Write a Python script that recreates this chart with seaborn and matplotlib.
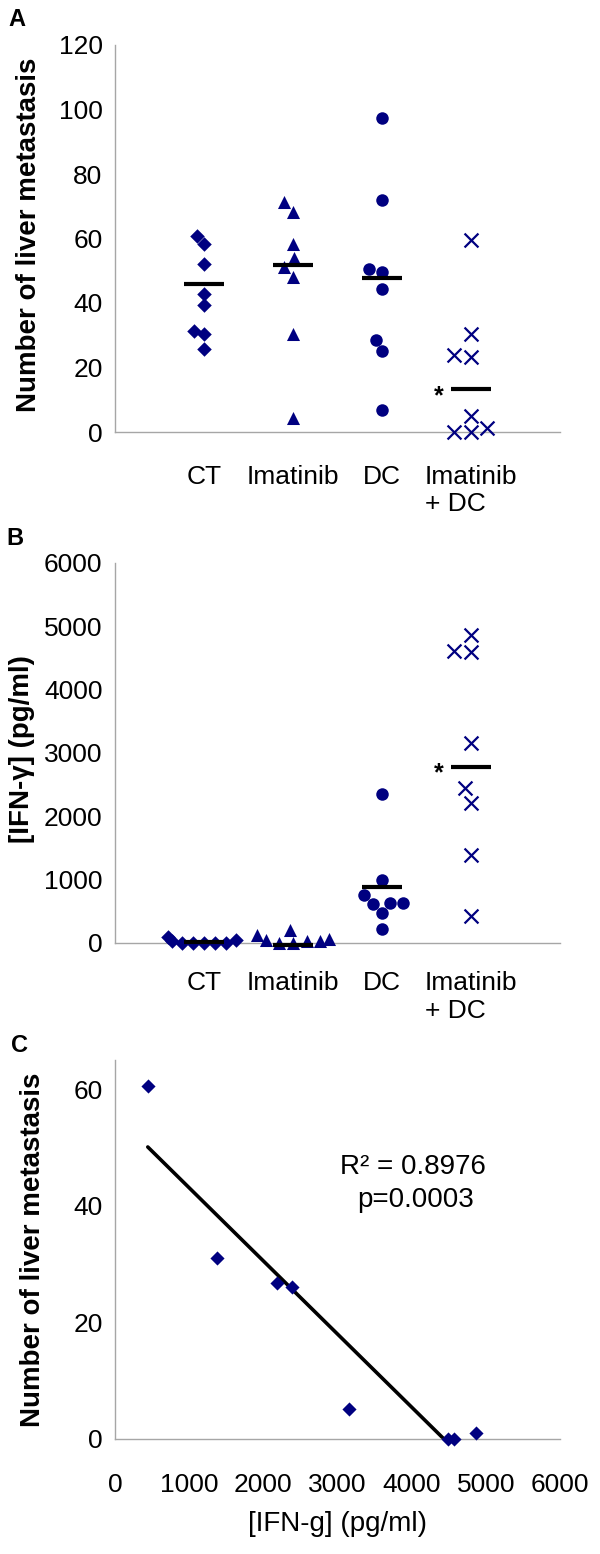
import numpy as np
import pandas as pd
import matplotlib
matplotlib.use("Agg")
import matplotlib.pyplot as plt
import seaborn as sns

# groups shown in panels A and B
groups = ["CT", "Imatinib", "DC", "Imatinib\n+ DC"]

# A: number of liver metastasis per mouse
met_ct = [60.9, 58.4, 52.1, 42.9, 39.5, 31.3, 30.5, 25.7]
met_ima = [71.3, 68.2, 58.3, 53.9, 51.1, 48.1, 30.4, 4.3]
met_dc = [97.4, 72.0, 49.6, 50.6, 44.3, 28.6, 25.2, 6.9]
met_imadc = [59.6, 30.4, 23.3, 24.0, 5.1, 0, 0, 1.2]
met_means = [45.9, 51.8, 47.8, 13.3]

# B: IFN-gamma (pg/ml)
ifn_ct = [0, 0, 90, 35, 40, 0, 0, 0]
ifn_ima = [40, 120, 25, 200, 0, 5, 25, 70]
ifn_dc = [2346, 1002, 638, 638, 765, 622, 480, 216]
ifn_imadc = [4866, 4587, 4603, 3163, 2441, 2204, 1397, 427]
ifn_means = [20, -25, 886, 2784]

# C: correlation in the Imatinib + DC group
corr_ifn = [442, 1377, 2182, 2390, 3158, 4494, 4571, 4868]
corr_met = [60.6, 31.1, 26.7, 26.0, 5.1, 0, 0, 1.0]

sns.set_style("white")
plt.rcParams['font.family'] = ['Liberation Sans', 'DejaVu Sans']
plt.rcParams['text.color'] = 'black'
plt.rcParams['axes.labelcolor'] = 'black'
plt.rcParams['xtick.labelcolor'] = 'black'
plt.rcParams['ytick.labelcolor'] = 'black'

navy = '#000080'
grey = '#a6a6a6'
markers = ['D', '^', 'o', 'x']
sizes = [7.4, 9.4, 9.0, 10.0]

fig = plt.figure(figsize=(6, 15.54), dpi=100)
W, H = 600, 1554


def add_ax(left, top, right, bottom):
    return fig.add_axes([left / W, 1 - bottom / H, (right - left) / W, (bottom - top) / H])


def style(ax, xpad):
    sns.despine(ax=ax)
    for s in ['left', 'bottom']:
        ax.spines[s].set_color(grey)
        ax.spines[s].set_linewidth(1)
    ax.tick_params(axis='y', length=6, width=1, color=grey, labelcolor='black', labelsize=19, pad=3)
    ax.tick_params(axis='x', length=4.5, width=1, color=grey, labelcolor='black', labelsize=19, pad=xpad)


def dot_panel(ax, series, means, ylim, yticks, ylabel, label_x, xpad):
    df = pd.DataFrame({'group': np.repeat(groups, [len(s) for s in series]),
                       'value': np.concatenate(series)})
    for g, m, sz in zip(groups, markers, sizes):
        kw = dict(linewidth=1.6, edgecolor=navy) if m == 'x' else dict(linewidth=0)
        sns.swarmplot(data=df[df.group == g], x='group', y='value', order=groups,
                      marker=m, size=sz, color=navy, ax=ax, clip_on=False,
                      warn_thresh=1, **kw)
    pos = np.arange(len(groups))
    ax.hlines(means, pos - 0.22, pos + 0.22, color='black', lw=3, zorder=5, clip_on=False)
    ax.annotate('*', xy=(pos[3] - 0.36, means[3]), xytext=(0, -10), textcoords='offset points',
                ha='center', va='baseline', fontsize=18, fontweight='bold')
    ax.set_xlim(-1, 4)
    ax.set_ylim(*ylim)
    ax.set_yticks(yticks)
    ax.set_xticks(pos)
    ax.set_xticklabels(groups, multialignment='left')
    ax.set_xlabel('')
    ax.set_ylabel(ylabel, fontsize=20, fontweight='bold')
    ax.yaxis.set_label_coords(label_x, 0.51)
    style(ax, xpad)


axA = add_ax(115, 45, 560, 432)
dot_panel(axA, [met_ct, met_ima, met_dc, met_imadc], met_means, (0, 120),
          range(0, 121, 20), 'Number of liver metastasis', -0.165, 19)

axB = add_ax(115, 563, 560, 943)
dot_panel(axB, [ifn_ct, ifn_ima, ifn_dc, ifn_imadc], ifn_means, (0, 6000),
          range(0, 6001, 1000), '[IFN-γ] (pg/ml)', -0.18, 16)

axC = add_ax(115, 1060, 560, 1439)
sns.regplot(x=corr_ifn, y=corr_met, ax=axC, ci=None, marker='D', color=navy,
            scatter_kws={'s': 7.2 ** 2, 'linewidths': 0, 'alpha': 1, 'clip_on': False, 'zorder': 3},
            line_kws={'color': 'black', 'lw': 2.6})
axC.set_xlim(0, 6000)
axC.set_ylim(0, 65)
axC.set_xticks(range(0, 6001, 1000))
axC.set_yticks(range(0, 61, 20))
axC.set_xlabel('[IFN-g] (pg/ml)', fontsize=20, labelpad=10)
axC.set_ylabel('Number of liver metastasis', fontsize=20, fontweight='bold')
axC.yaxis.set_label_coords(-0.155, 0.5)
axC.text(0.67, 0.718, 'R² = 0.8976', transform=axC.transAxes, ha='center', va='center', fontsize=20)
axC.text(0.675, 0.631, 'p=0.0003', transform=axC.transAxes, ha='center', va='center', fontsize=20)
style(axC, 20)

for letter, x, y in [('A', 17, 19), ('B', 15, 538), ('C', 20, 1045)]:
    fig.text(x / W, 1 - y / H, letter, ha='center', va='center', fontsize=17, fontweight='bold')

fig.savefig('out.png', dpi=100, facecolor='white')
